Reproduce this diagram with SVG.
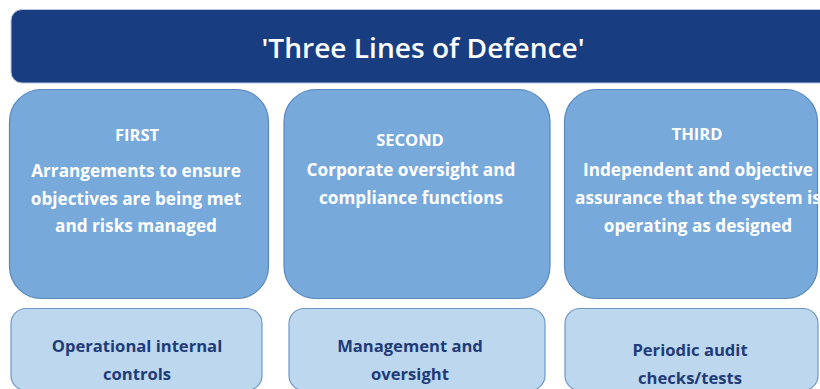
<svg xmlns="http://www.w3.org/2000/svg" width="820" height="389" viewBox="0 0 820 389">
<style>
.banner{fill:#183d80;stroke:#b8c7dd;stroke-width:1}
.line{fill:#77a9db;stroke:#5a88bd;stroke-width:1.2}
.act{fill:#bdd7ee;stroke:#6f98c6;stroke-width:1.2}
.title{font-family:"Open Sans","Liberation Sans",sans-serif;font-weight:600;font-size:27px;fill:#ffffff;text-anchor:middle}
.wt{font-family:"Open Sans","Liberation Sans",sans-serif;font-weight:bold;font-size:17.2px;fill:#ffffff;text-anchor:middle}
.hd{font-family:"Open Sans","Liberation Sans",sans-serif;font-weight:bold;font-size:16.5px;fill:#ffffff;text-anchor:middle}
.nt{font-family:"Open Sans","Liberation Sans",sans-serif;font-weight:bold;font-size:16.6px;fill:#1f3b78;text-anchor:middle}
</style>
<rect width="820" height="389" fill="#ffffff"/>
<g id="banner">
<rect class="banner" x="11" y="9.5" width="830" height="73.5" rx="11"/>
<text class="title" x="423" y="58" textLength="323" lengthAdjust="spacingAndGlyphs">'Three Lines of Defence'</text>
</g>
<g id="first">
<rect class="line" x="9.5" y="89.5" width="259" height="209" rx="32"/>
<text class="hd" x="137" y="141">FIRST</text>
<text class="wt" x="136" y="177">Arrangements to ensure</text>
<text class="wt" x="136" y="204.5">objectives are being met</text>
<text class="wt" x="136" y="232">and risks managed</text>
</g>
<g id="second">
<rect class="line" x="284" y="89.5" width="266" height="209" rx="32"/>
<text class="hd" x="410" y="146">SECOND</text>
<text class="wt" x="411" y="176">Corporate oversight and</text>
<text class="wt" x="411" y="204">compliance functions</text>
</g>
<g id="third">
<rect class="line" x="564.5" y="89.5" width="253" height="209" rx="32"/>
<text class="hd" x="697" y="140">THIRD</text>
<text class="wt" x="698" y="176">Independent and objective</text>
<text class="wt" x="698" y="204">assurance that the system is</text>
<text class="wt" x="698" y="232">operating as designed</text>
</g>
<g id="first-activity">
<rect class="act" x="11" y="308.5" width="251" height="82" rx="15"/>
<text class="nt" x="137" y="352">Operational internal</text>
<text class="nt" x="137" y="380">controls</text>
</g>
<g id="second-activity">
<rect class="act" x="289" y="308.5" width="256" height="82" rx="15"/>
<text class="nt" x="410" y="352">Management and</text>
<text class="nt" x="410" y="380">oversight</text>
</g>
<g id="third-activity">
<rect class="act" x="565" y="308.5" width="253" height="82" rx="15"/>
<text class="nt" x="690" y="356">Periodic audit</text>
<text class="nt" x="690" y="384">checks/tests</text>
</g>
<g id="connectors"></g>
</svg>
